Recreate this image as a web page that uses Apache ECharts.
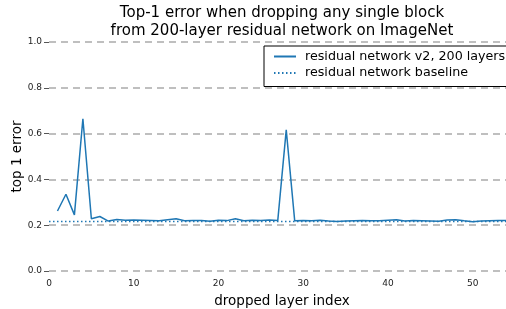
<!DOCTYPE html>
<html>
<head>
<meta charset="utf-8">
<script src="https://cdn.jsdelivr.net/npm/echarts@6/dist/echarts.min.js"></script>
<style>
  html, body { margin: 0; padding: 0; background: #fff; }
  #chart-main { width: 506px; height: 309px; }
</style>
</head>
<body>
<div id="chart-main"></div>
<script>
// dropped block index and the top-1 error after dropping it
const droppedLayers = [1, 2, 3, 4, 5, 6, 7, 8, 9, 10, 11, 12, 13, 14, 15, 16, 17, 18,
  19, 20, 21, 22, 23, 24, 25, 26, 27, 28, 29, 30, 31, 32, 33, 34, 35, 36,
  37, 38, 39, 40, 41, 42, 43, 44, 45, 46, 47, 48, 49, 50, 51, 52, 53, 54];
const resnetV2Error = [0.262, 0.335, 0.245, 0.665, 0.228, 0.238, 0.218, 0.225, 0.222, 0.223,
  0.222, 0.221, 0.219, 0.224, 0.228, 0.219, 0.221, 0.220, 0.217, 0.222,
  0.220, 0.228, 0.219, 0.222, 0.221, 0.223, 0.220, 0.616, 0.219, 0.220,
  0.219, 0.222, 0.218, 0.216, 0.218, 0.219, 0.220, 0.219, 0.219, 0.222,
  0.224, 0.218, 0.220, 0.219, 0.218, 0.217, 0.223, 0.224, 0.219, 0.215,
  0.218, 0.219, 0.220, 0.221];
const baselineX = [0, 55];
const baselineError = 0.216;
const yTicks = [0, 0.2, 0.4, 0.6, 0.8, 1.0];

const font = 'DejaVu Sans';
let myChart = echarts.init(document.getElementById('chart-main'));
let option = {
  animation: false,
  title: {
    text: 'Top-1 error when dropping any single block\nfrom 200-layer residual network on ImageNet',
    left: 282,
    top: 4,
    padding: 0,
    textAlign: 'center',
    textStyle: { fontFamily: font, fontSize: 15, fontWeight: 'normal', color: '#000', lineHeight: 18 }
  },
  legend: {
    orient: 'vertical',
    left: 264,
    top: 46,
    padding: [4, 10, 7, 9],
    itemGap: 3.5,
    itemWidth: 22,
    itemHeight: 12,
    borderColor: '#000',
    borderWidth: 1,
    borderRadius: 0,
    backgroundColor: '#fff',
    itemStyle: { opacity: 0 },
    textStyle: { fontFamily: font, fontSize: 12.7, color: '#000', padding: [0, 0, 0, 4] },
    data: ['residual network v2, 200 layers', 'residual network baseline']
  },
  // the source figure is cropped on the right, so the plot runs past the canvas
  grid: { left: 49, right: -9, top: 42, bottom: 38, outerBoundsMode: 'none' },
  xAxis: {
    type: 'value',
    min: 0,
    max: 55,
    interval: 10,
    name: 'dropped layer index',
    nameLocation: 'middle',
    nameGap: 23,
    nameMoveOverlap: false,
    nameTextStyle: { fontFamily: font, fontSize: 13.5, color: '#000' },
    axisLine: { show: false },
    axisTick: { show: false },
    splitLine: { show: false },
    axisLabel: { fontFamily: font, fontSize: 9, color: '#222', margin: 8, showMaxLabel: false }
  },
  yAxis: {
    type: 'value',
    min: yTicks[0],
    max: yTicks[yTicks.length - 1],
    interval: 0.2,
    name: 'top 1 error',
    nameLocation: 'middle',
    nameGap: 25,
    nameMoveOverlap: false,
    nameTextStyle: { fontFamily: font, fontSize: 13.5, color: '#000' },
    axisLine: { show: false },
    axisTick: { show: true, length: 5, lineStyle: { color: '#555', width: 1 } },
    axisLabel: {
      fontFamily: font, fontSize: 9, color: '#222', margin: 7,
      formatter: v => v.toFixed(1)
    },
    splitLine: { show: true, lineStyle: { color: '#aaa', width: 1.6, type: [7, 5] } }
  },
  series: [
    {
      name: 'residual network v2, 200 layers',
      type: 'line',
      symbol: 'none',
      data: droppedLayers.map((x, i) => [x, resnetV2Error[i]]),
      lineStyle: { color: '#1f77b4', width: 1.5 },
      itemStyle: { color: '#1f77b4' },
      z: 3
    },
    {
      name: 'residual network baseline',
      type: 'line',
      symbol: 'none',
      data: baselineX.map(x => [x, baselineError]),
      lineStyle: { color: '#1f77b4', width: 1.5, type: [1.5, 2.5] },
      itemStyle: { color: '#1f77b4' },
      z: 2
    }
  ]
};
myChart.setOption(option);
</script>
</body>
</html>
